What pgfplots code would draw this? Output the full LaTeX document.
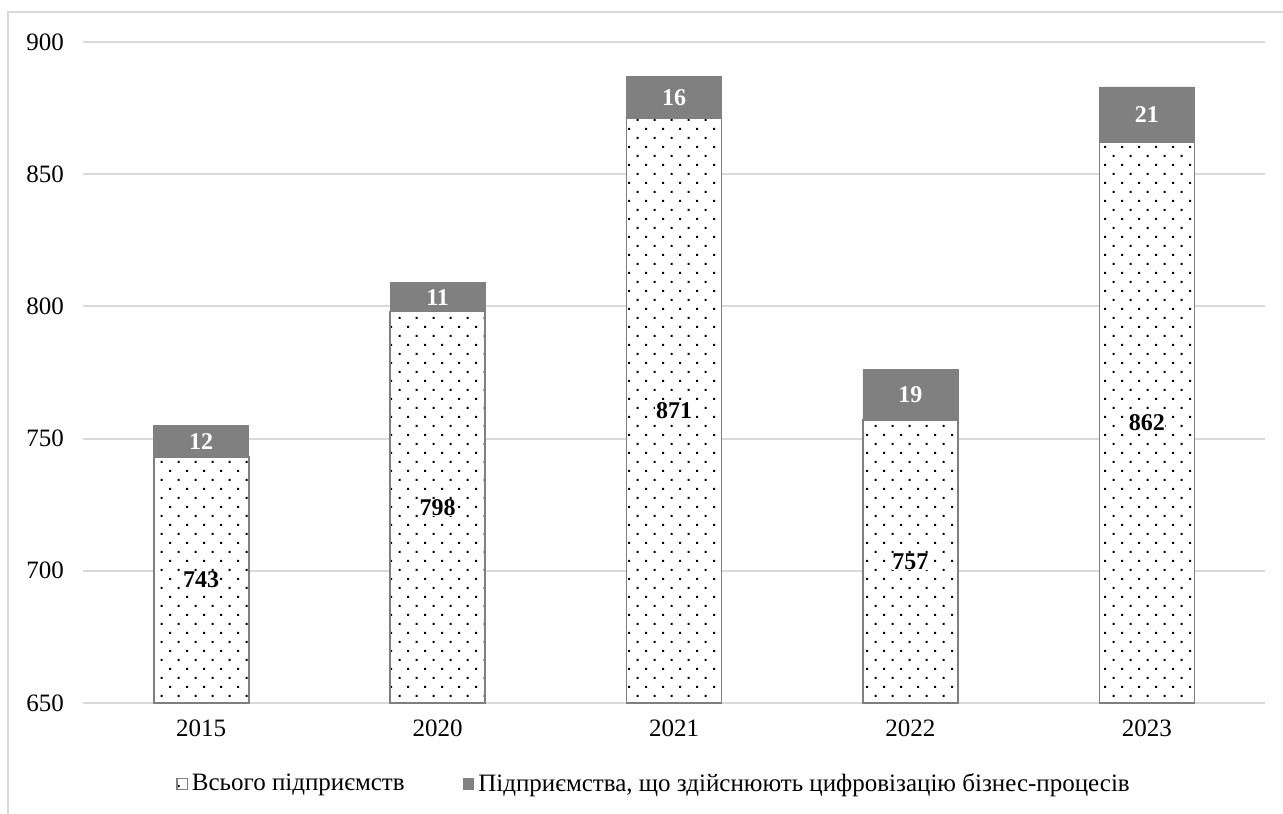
\documentclass[border=0pt]{standalone}
\usepackage{fontspec}
\setmainfont{Liberation Serif}
\usepackage{pgfplots}
\pgfplotsset{compat=1.18}
\usetikzlibrary{patterns}

\definecolor{gridgray}{HTML}{D9D9D9}
\definecolor{bargray}{HTML}{808080}
\definecolor{edgegray}{HTML}{7F7F7F}

% sparse staggered dots, like the office "10%" fill
\pgfdeclarepatternformonly{sparsedots}{\pgfqpoint{-0.6pt}{-0.6pt}}{\pgfqpoint{4.9pt}{5.1pt}}{\pgfqpoint{8.5pt}{9pt}}{
  \pgfpathrectangle{\pgfqpoint{-0.5pt}{-0.5pt}}{\pgfqpoint{1pt}{1pt}}
  \pgfpathrectangle{\pgfqpoint{3.75pt}{4pt}}{\pgfqpoint{1pt}{1pt}}
  \pgfusepath{fill}
}
\tikzset{lab/.style={font=\bfseries\fontsize{12}{14}\selectfont, inner sep=0.3pt}}
\pgfplotsset{sqlegend/.style={legend image code/.code={\draw[##1, line width=0.6pt] (0pt,-2.6pt) rectangle (5.2pt,2.6pt);}}}

\begin{document}
\begin{tikzpicture}
\path[use as bounding box] (-41.5pt,-55pt) rectangle (600pt,351.5pt);
\draw[gridgray, line width=1pt] (-37.5pt,-60pt) -- (-37.5pt,345.5pt) -- (610pt,345.5pt);
\begin{axis}[
  at={(0,0)}, anchor=south west,
  scale only axis, width=591pt, height=330.5pt,
  ybar stacked, bar width=47.5pt,
  xmin=-0.5, xmax=4.5, ymin=650, ymax=900,
  xtick=data, xticklabels={2015,2020,2021,2022,2023},
  ytick={650,700,...,900},
  ymajorgrids, grid style={gridgray, line width=1pt},
  axis line style={draw=none},
  tick style={draw=none},
  /pgf/number format/assume math mode=true,
  tick label style={font=\fontsize{12.5}{15}\selectfont},
  yticklabel style={xshift=-6pt},
  xticklabel style={yshift=-5pt},
  legend style={at={(0.484,-0.1225)}, anchor=center, draw=none,
    font=\fontsize{12.5}{15}\selectfont,
    /tikz/every even column/.append style={column sep=27pt}},
  legend columns=2, legend cell align=left,
]
\addplot[fill=white, postaction={pattern=sparsedots}, draw=edgegray, line width=0.8pt, sqlegend]
  coordinates {(0,743) (1,798) (2,871) (3,757) (4,862)};
\addlegendentry{Всього підприємств}
\addplot[fill=bargray, draw=bargray, sqlegend]
  coordinates {(0,12) (1,11) (2,16) (3,19) (4,21)};
\addlegendentry{Підприємства, що здійснюють цифровізацію бізнес-процесів}

% label anchors: middle of each visible segment
\coordinate (a0) at (axis cs:0,696.5);
\coordinate (a1) at (axis cs:1,724);
\coordinate (a2) at (axis cs:2,760.5);
\coordinate (a3) at (axis cs:3,703.5);
\coordinate (a4) at (axis cs:4,756);
\coordinate (b0) at (axis cs:0,749);
\coordinate (b1) at (axis cs:1,803.5);
\coordinate (b2) at (axis cs:2,879);
\coordinate (b3) at (axis cs:3,766.5);
\coordinate (b4) at (axis cs:4,872.5);
\end{axis}
\foreach \n/\v in {a0/743,a1/798,a2/871,a3/757,a4/862}
  \node[lab, fill=white] at (\n) {\v};
\foreach \n/\v in {b0/12,b1/11,b2/16,b3/19,b4/21}
  \node[lab, text=white] at (\n) {\v};
\end{tikzpicture}
\end{document}
